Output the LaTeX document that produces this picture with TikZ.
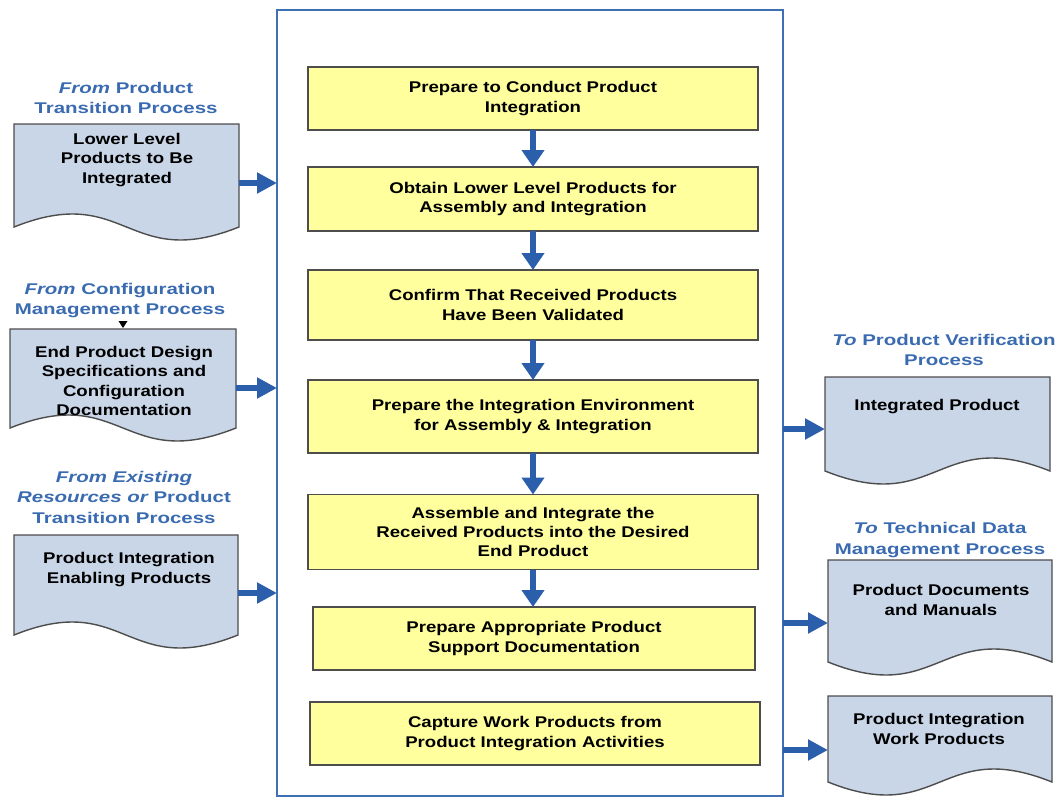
\documentclass[tikz,border=0pt]{standalone}
\usepackage{fontspec}
\setmainfont{Liberation Sans}
\newfontfamily\bodyfont[FakeStretch=1.2]{Liberation Sans}
\newfontfamily\titlefont[FakeStretch=1.32]{Liberation Sans}
\usetikzlibrary{arrows.meta,calc}
\definecolor{frameblue}{HTML}{3F6FB5}
\definecolor{arrblue}{HTML}{2B5EAB}
\definecolor{titleblue}{HTML}{3A6BB0}
\definecolor{docfill}{HTML}{C9D6E7}
\definecolor{boxfill}{HTML}{FFFF9E}
\definecolor{edgegray}{HTML}{4D4D4D}
\begin{document}
\begin{tikzpicture}[x=1pt,y=-1pt,
  every node/.style={inner sep=0pt, outer sep=0pt},
  txt/.style={font=\bodyfont\fontsize{15.5}{19.2}\selectfont\bfseries, align=center, text=black},
  ttl/.style={font=\titlefont\fontsize{15.5}{20.5}\selectfont\bfseries, align=center, text=titleblue},
  stepbox/.style={txt, draw=edgegray, fill=boxfill, line width=1.4pt, minimum width=450pt},
  docarea/.style={minimum width=#1, anchor=north west},
  docline/.style={draw=edgegray, fill=docfill, line width=1.4pt},
  harr/.style={draw=arrblue, line width=6pt, -{Triangle[length=20pt,width=20pt]}},
  varr/.style={draw=arrblue, line width=6pt, -{Triangle[length=17pt,width=22pt]}}
]
\useasboundingbox (0,0) rectangle (1060,803);

% main frame
\node[draw=frameblue, line width=2pt, minimum width=506pt, minimum height=786pt] (frame) at (530,403) {};

% process steps
\node[stepbox, minimum height=63pt] (b1) at (533,98.5) {Prepare to Conduct Product\\Integration};
\node[stepbox, minimum height=64pt] (b2) at (533,199) {Obtain Lower Level Products for\\Assembly and Integration};
\node[stepbox, minimum height=70pt] (b3) at (533,305) {Confirm That Received Products\\Have Been Validated};
\node[stepbox, minimum height=73pt] (b4) at (533,416.5) {Prepare the Integration Environment\\for Assembly \& Integration};
\node[stepbox, minimum height=75pt] (b5) at (533,532) {Assemble and Integrate the\\Received Products into the Desired\\End Product};
\node[stepbox, minimum width=442pt, minimum height=63pt] (b6) at (534,638.5) {Prepare Appropriate Product\\Support Documentation};
\node[stepbox, minimum height=63pt] (b7) at (535,733.5) {Capture Work Products from\\Product Integration Activities};

\draw[varr] (b1.south) -- (b2.north);
\draw[varr] (b2.south) -- (b3.north);
\draw[varr] (b3.south) -- (b4.north);
\draw[varr] (b4.south) -- (b5.north);
\draw[varr] (b5.south) -- (b5.south |- b6.north);

% left documents (crest left, trough right)
\node[docarea=225pt, minimum height=103pt] (d1) at (14,124) {};
\node[docarea=226pt, minimum height=99pt] (d2) at (10,329) {};
\node[docarea=224pt, minimum height=100pt] (d3) at (14,535) {};
\foreach \d in {d1,d2,d3}{
  \path[docline] (\d.north west) -- (\d.north east) -- (\d.south east)
    .. controls ($(\d.south)+(0,45)$) and ($(\d.south)+(0,-45)$) .. (\d.south west) -- cycle;
}
% right documents (trough left, crest right)
\node[docarea=225pt, minimum height=94pt] (d4) at (825,377) {};
\node[docarea=224pt, minimum height=102pt] (d5) at (828,560) {};
\node[docarea=224pt, minimum height=86pt] (d6) at (828,696) {};
\foreach \d in {d4,d5,d6}{
  \path[docline] (\d.north west) -- (\d.north east) -- (\d.south east)
    .. controls ($(\d.south)+(0,-45)$) and ($(\d.south)+(0,45)$) .. (\d.south west) -- cycle;
}

% document texts
\node[txt] (d1t) at (127,160) {Lower Level\\Products to Be\\Integrated};
\node[txt] (d2t) at (124,381) {End Product Design\\Specifications and\\Configuration\\Documentation};
\node[txt] (d3t) at (129,569.5) {Product Integration\\Enabling Products};
\node[txt] (d4t) at (937,407) {Integrated Product};
\node[txt] (d5t) at (941,600) {Product Documents\\and Manuals};
\node[txt] (d6t) at (939,729) {Product Integration\\Work Products};

% titles
\node[ttl] (t1) at (126,98) {\itshape From\upshape{} Product\\Transition Process};
\node[ttl] (t2) at (120,300.5) {\itshape From\upshape{} Configuration\\Management Process};
\node[ttl] (t3) at (124,497) {\itshape From Existing\\\itshape Resources or\upshape{} Product\\Transition Process};
\node[ttl] (t4) at (944,350) {\itshape To\upshape{} Product Verification\\Process};
\node[ttl] (t5) at (940,540) {\itshape To\upshape{} Technical Data\\Management Process};

% small marker above second document
\coordinate (m2) at (d2.north);
\fill[black] ($(m2)+(-4.5,-8)$) -- ($(m2)+(4.5,-8)$) -- ($(m2)+(0,-1)$) -- cycle;

% inputs
\path (d1.east) ++(0,7.5) coordinate (a1);
\path (d2.east) ++(0,9.5) coordinate (a2);
\path (d3.east) ++(0,8) coordinate (a3);
\draw[harr] (a1) -- (a1 -| frame.west);
\draw[harr] (a2) -- (a2 -| frame.west);
\draw[harr] (a3) -- (a3 -| frame.west);

% outputs
\path (d4.west) ++(0,5) coordinate (c4);
\path (d5.west) ++(0,12) coordinate (c5);
\path (d6.west) ++(0,11) coordinate (c6);
\draw[harr] (frame.east |- c4) -- (c4);
\draw[harr] (frame.east |- c5) -- (c5);
\draw[harr] (frame.east |- c6) -- (c6);
\end{tikzpicture}
\end{document}
